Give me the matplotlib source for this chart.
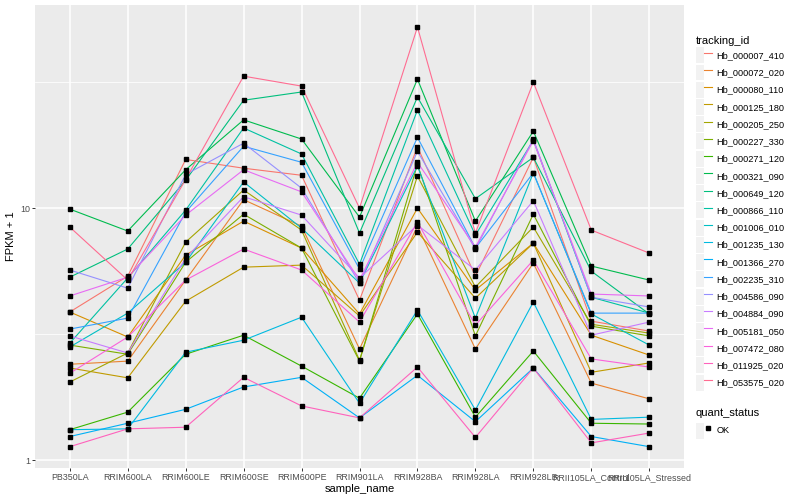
import numpy as np
import matplotlib
matplotlib.use("Agg")
import matplotlib.pyplot as plt
import matplotlib.patches as mpatches
from matplotlib.lines import Line2D
from matplotlib.legend_handler import HandlerTuple
from matplotlib.ticker import FixedLocator, NullFormatter

plt.rcParams["font.family"] = ["Liberation Sans", "DejaVu Sans"]

# sample names on the x axis
sample_name = ["PB350LA", "RRIM600LA", "RRIM600LE", "RRIM600SE", "RRIM600PE", "RRIM901LA",
               "RRIM928BA", "RRIM928LA", "RRIM928LB", "RRII105LA_Control", "RRII105LA_Stressed"]

# FPKM + 1 per gene
hb_000007_410 = [3.87, 5.37, 15.6, 14.4, 13.5, 4.31, 17.5, 5.37, 15.9, 3.56, 3.25]
hb_000072_020 = [2.40, 2.47, 5.18, 10.8, 8.48, 2.76, 8.48, 2.76, 6.05, 2.02, 1.75]
hb_000080_110 = [3.87, 3.08, 6.51, 8.88, 6.94, 3.80, 10.0, 4.73, 7.26, 3.13, 2.61]
hb_000125_180 = [2.32, 2.12, 4.27, 5.83, 5.94, 3.73, 8.03, 4.39, 7.26, 2.23, 2.43]
hb_000205_250 = [2.04, 2.66, 7.33, 11.8, 8.18, 2.49, 13.4, 4.86, 8.41, 3.46, 3.19]
hb_000227_330 = [2.86, 2.63, 6.10, 9.46, 6.94, 2.47, 14.9, 3.11, 9.46, 3.40, 3.11]
hb_000271_120 = [1.32, 1.55, 2.63, 3.13, 2.36, 1.76, 3.80, 1.48, 2.71, 1.40, 1.39]
hb_000321_090 = [9.91, 8.11, 14.2, 22.4, 18.8, 9.21, 32.5, 8.88, 20.2, 5.89, 5.18]
hb_000649_120 = [5.32, 6.88, 12.9, 26.8, 28.9, 7.96, 27.6, 10.9, 15.9, 5.62, 3.80]
hb_000866_110 = [2.91, 5.28, 9.82, 20.8, 16.4, 5.99, 24.5, 7.81, 18.6, 4.43, 3.83]
hb_001006_010 = [2.81, 3.83, 6.10, 12.7, 8.33, 5.04, 14.7, 3.66, 13.8, 3.80, 2.86]
hb_001235_130 = [1.32, 1.33, 2.68, 2.99, 3.69, 1.68, 3.94, 1.58, 4.24, 1.45, 1.48]
hb_001366_270 = [1.24, 1.40, 1.59, 1.95, 2.13, 1.47, 2.17, 1.42, 2.32, 1.24, 1.13]
hb_002235_310 = [3.31, 3.66, 9.64, 17.6, 15.2, 5.73, 19.1, 6.94, 13.8, 3.83, 3.83]
hb_004586_090 = [5.68, 4.81, 13.6, 18.1, 12.0, 5.04, 16.8, 6.88, 18.8, 4.43, 4.05]
hb_004884_090 = [3.11, 2.66, 6.33, 11.1, 9.38, 5.28, 8.56, 5.68, 10.7, 3.13, 3.53]
hb_005181_050 = [4.48, 5.32, 9.38, 14.2, 11.6, 5.18, 15.2, 7.00, 18.5, 4.56, 4.48]
hb_007472_080 = [2.21, 3.08, 5.18, 6.88, 5.68, 3.53, 8.80, 3.43, 6.22, 2.52, 2.34]
hb_011925_020 = [1.13, 1.33, 1.35, 2.13, 1.64, 1.47, 2.34, 1.23, 2.32, 1.17, 1.28]
hb_053575_020 = [8.41, 5.18, 13.0, 33.4, 30.5, 10.0, 52.3, 7.96, 31.6, 8.18, 6.63]

tracking_id = ["Hb_000007_410", "Hb_000072_020", "Hb_000080_110", "Hb_000125_180", "Hb_000205_250",
               "Hb_000227_330", "Hb_000271_120", "Hb_000321_090", "Hb_000649_120", "Hb_000866_110",
               "Hb_001006_010", "Hb_001235_130", "Hb_001366_270", "Hb_002235_310", "Hb_004586_090",
               "Hb_004884_090", "Hb_005181_050", "Hb_007472_080", "Hb_011925_020", "Hb_053575_020"]
fpkm = [hb_000007_410, hb_000072_020, hb_000080_110, hb_000125_180, hb_000205_250,
        hb_000227_330, hb_000271_120, hb_000321_090, hb_000649_120, hb_000866_110,
        hb_001006_010, hb_001235_130, hb_001366_270, hb_002235_310, hb_004586_090,
        hb_004884_090, hb_005181_050, hb_007472_080, hb_011925_020, hb_053575_020]

# ggplot hue palette, 20 colours
colors = ["#F8766D", "#EA8331", "#D89000", "#C09B00", "#A3A500", "#7CAE00", "#39B600", "#00BB4E",
          "#00BF7D", "#00C1A3", "#00BFC4", "#00BAE0", "#00B0F6", "#35A2FF", "#9590FF", "#C77CFF",
          "#E76BF3", "#FA62DB", "#FF62BC", "#FF6C91"]

fig = plt.figure(figsize=(8, 5), dpi=100)
ax = fig.add_axes([35 / 800, 1 - 468 / 500, 649 / 800, 463 / 500])
ax.set_facecolor("#EBEBEB")

x = np.arange(len(sample_name))
for vals, col in zip(fpkm, colors):
    ax.plot(x, vals, color=col, lw=0.8, zorder=3)
for vals in fpkm:
    ax.plot(x, vals, "s", color="black", ms=2.2, ls="none", zorder=4)

ax.set_yscale("log")
ax.set_ylim(0.93, 64)
ax.set_xlim(-0.6, 10.6)
ax.yaxis.set_major_locator(FixedLocator([1, 10]))
ax.set_yticklabels(["1", "10"])
ax.yaxis.set_minor_locator(FixedLocator([10 ** 0.5, 10 ** 1.5]))
ax.yaxis.set_minor_formatter(NullFormatter())
ax.set_xticks(x)
ax.set_xticklabels(sample_name)

ax.grid(which="major", color="white", lw=1.1)
ax.grid(which="minor", axis="y", color="white", lw=0.55)
ax.set_axisbelow(True)
for s in ax.spines.values():
    s.set_visible(False)
ax.tick_params(which="major", length=2.0, width=0.7, color="#333333", labelsize=6.4,
               labelcolor="#4D4D4D", pad=1.6)
ax.tick_params(which="minor", length=0)

ax.set_xlabel("sample_name", fontsize=8, labelpad=1.5)
ax.set_ylabel("FPKM + 1", fontsize=8, labelpad=3)

key_bg = dict(facecolor="#F2F2F2", edgecolor="none")
h1 = [(mpatches.Patch(**key_bg), Line2D([], [], color=c, lw=0.8)) for c in colors]
leg1 = fig.legend(h1, tracking_id, loc="upper left", bbox_to_anchor=(696 / 800, 1 - 36 / 500),
                  frameon=False, fontsize=6.6, title="tracking_id", title_fontsize=8,
                  handlelength=1.75, handleheight=2.3, handletextpad=0.45, labelspacing=0.14,
                  borderpad=0, borderaxespad=0, alignment="left",
                  handler_map={tuple: HandlerTuple(ndivide=None)})

h2 = [(mpatches.Patch(**key_bg), Line2D([], [], marker="s", color="black", ls="none", ms=2.2))]
leg2 = fig.legend(h2, ["OK"], loc="upper left", bbox_to_anchor=(696 / 800, 1 - 408 / 500),
                  frameon=False, fontsize=6.6, title="quant_status", title_fontsize=8,
                  handlelength=1.75, handleheight=2.3, handletextpad=0.45,
                  borderpad=0, borderaxespad=0, alignment="left",
                  handler_map={tuple: HandlerTuple(ndivide=None)})

fig.savefig("out.png", dpi=100)
